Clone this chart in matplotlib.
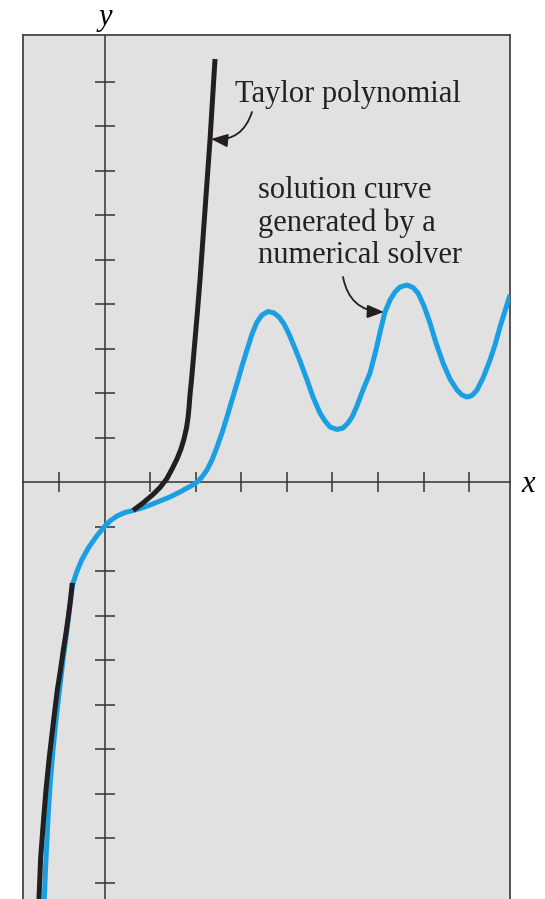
import numpy as np
import matplotlib.pyplot as plt

# numerical solution (blue)
solver_x = [-1.334, -1.308, -1.275, -1.242, -1.198, -1.143, -1.077, -1.000, -0.923, -0.835,
            -0.758, -0.714, -0.622, -0.512, -0.367, -0.182, 0.0, 0.110, 0.264, 0.440,
            0.615, 0.813, 0.989, 1.209, 1.429, 1.648, 1.802, 1.912, 2.022, 2.132,
            2.242, 2.352, 2.462, 2.571, 2.681, 2.791, 2.923, 3.011, 3.121, 3.231,
            3.341, 3.451, 3.582, 3.714, 3.824, 3.934, 4.044, 4.154, 4.286, 4.440,
            4.571, 4.725, 4.835, 4.945, 5.099, 5.231, 5.341, 5.429, 5.538, 5.670,
            5.824, 5.956, 6.066, 6.154, 6.264, 6.374, 6.484, 6.637, 6.769, 6.879,
            7.011, 7.143, 7.275, 7.429, 7.582, 7.736, 7.846, 7.956, 8.066, 8.176,
            8.308, 8.462, 8.571, 8.681, 8.791, 8.901]
solver_y = [-9.360, -8.708, -8.034, -7.360, -6.685, -6.011, -5.337, -4.663, -3.989, -3.315,
            -2.640, -2.303, -2.011, -1.742, -1.472, -1.202, -0.978, -0.865, -0.753, -0.674,
            -0.629, -0.573, -0.506, -0.416, -0.326, -0.213, -0.124, -0.067, 0.011, 0.124,
            0.281, 0.506, 0.798, 1.112, 1.472, 1.854, 2.303, 2.618, 2.978, 3.337,
            3.607, 3.764, 3.843, 3.809, 3.719, 3.562, 3.337, 3.067, 2.730, 2.303,
            1.921, 1.562, 1.382, 1.247, 1.191, 1.225, 1.337, 1.472, 1.719, 2.079,
            2.461, 2.978, 3.472, 3.831, 4.101, 4.281, 4.393, 4.438, 4.382, 4.258,
            3.966, 3.584, 3.135, 2.685, 2.326, 2.079, 1.966, 1.921, 1.955, 2.079,
            2.348, 2.753, 3.090, 3.494, 3.854, 4.213]

# Taylor polynomial (black), two visible pieces
taylor_left_x = [-1.451, -1.413, -1.356, -1.297, -1.224, -1.136, -1.048, -0.978, -0.916,
                 -0.857, -0.807, -0.758, -0.719]
taylor_left_y = [-9.360, -8.416, -7.652, -6.910, -6.169, -5.404, -4.663, -4.213, -3.764,
                 -3.382, -3.022, -2.640, -2.258]
taylor_right_x = [0.615, 0.835, 1.055, 1.209, 1.356, 1.473, 1.582, 1.670, 1.736, 1.791,
                  1.824, 1.846, 1.868, 1.901, 1.934, 1.978, 2.029, 2.088, 2.198, 2.308, 2.418]
taylor_right_y = [-0.629, -0.461, -0.270, -0.112, 0.079, 0.303, 0.528, 0.753, 0.978, 1.225,
                  1.449, 1.674, 1.966, 2.303, 2.685, 3.202, 3.809, 4.551, 6.124, 7.697, 9.517]

x_ticks = [-1, 1, 2, 3, 4, 5, 6, 7, 8]
y_ticks = [-9, -8, -7, -6, -5, -4, -3, -2, -1, 1, 2, 3, 4, 5, 6, 7, 8, 9]

blue = '#1a9fe3'
black = '#231f20'
serif = ['Liberation Serif', 'DejaVu Serif']

fig = plt.figure(figsize=(5.45, 8.99), dpi=100)
ax = fig.add_axes([22.5 / 545, 0.0, (510 - 22.5) / 545, 1 - 35 / 899])
ax.set_facecolor('#e1e1e1')
ax.set_xlim(-1.813, 8.901)
ax.set_ylim(-9.36, 10.056)

# axes through the origin
ax.spines['left'].set_position(('data', 0))
ax.spines['bottom'].set_position(('data', 0))
for s in ['left', 'bottom']:
    ax.spines[s].set_color('#333333')
    ax.spines[s].set_linewidth(1.1)
for s in ['top', 'right']:
    ax.spines[s].set_color('#444444')
    ax.spines[s].set_linewidth(1.3)
# left frame edge (the left spine is used as the y axis)
ax.plot([0, 0], [0, 1], transform=ax.transAxes, color='#444444', lw=1.3, clip_on=False)

ax.set_xticks(x_ticks)
ax.set_yticks(y_ticks)
ax.set_xticklabels([])
ax.set_yticklabels([])
ax.tick_params(direction='inout', length=14, width=1.1, color='#333333')

line_kw = dict(lw=3.6, solid_capstyle='butt', solid_joinstyle='round')
ax.plot(solver_x, solver_y, color=blue, zorder=3, **line_kw)
ax.plot(taylor_left_x, taylor_left_y, color=black, zorder=4, **line_kw)
ax.plot(taylor_right_x, taylor_right_y, color=black, zorder=4, **line_kw)

ax.text(0, 10.28, 'y', family=serif, style='italic', fontsize=22, ha='center', va='baseline', clip_on=False)
ax.text(9.3, -0.05, 'x', family=serif, style='italic', fontsize=22, ha='center', va='center', clip_on=False)

ax.text(2.857, 8.557, 'Taylor polynomial', family=serif, fontsize=22, color='#222222', va='baseline')
ax.text(3.363, 4.933, 'solution curve\ngenerated by a\nnumerical solver', family=serif, fontsize=22,
        color='#222222', va='baseline', linespacing=1.15)

arrow = dict(arrowstyle='-|>,head_length=1.0,head_width=0.4', color=black, lw=1.3,
             shrinkA=0, shrinkB=0, mutation_scale=10)
ax.annotate('', xy=(2.33, 7.719), xytext=(3.231, 8.326),
            arrowprops=dict(arrow, connectionstyle='arc3,rad=-0.4'))
ax.annotate('', xy=(6.13, 3.831), xytext=(5.231, 4.618),
            arrowprops=dict(arrow, connectionstyle='arc3,rad=0.4'))

fig.savefig('out.png', dpi=100)
